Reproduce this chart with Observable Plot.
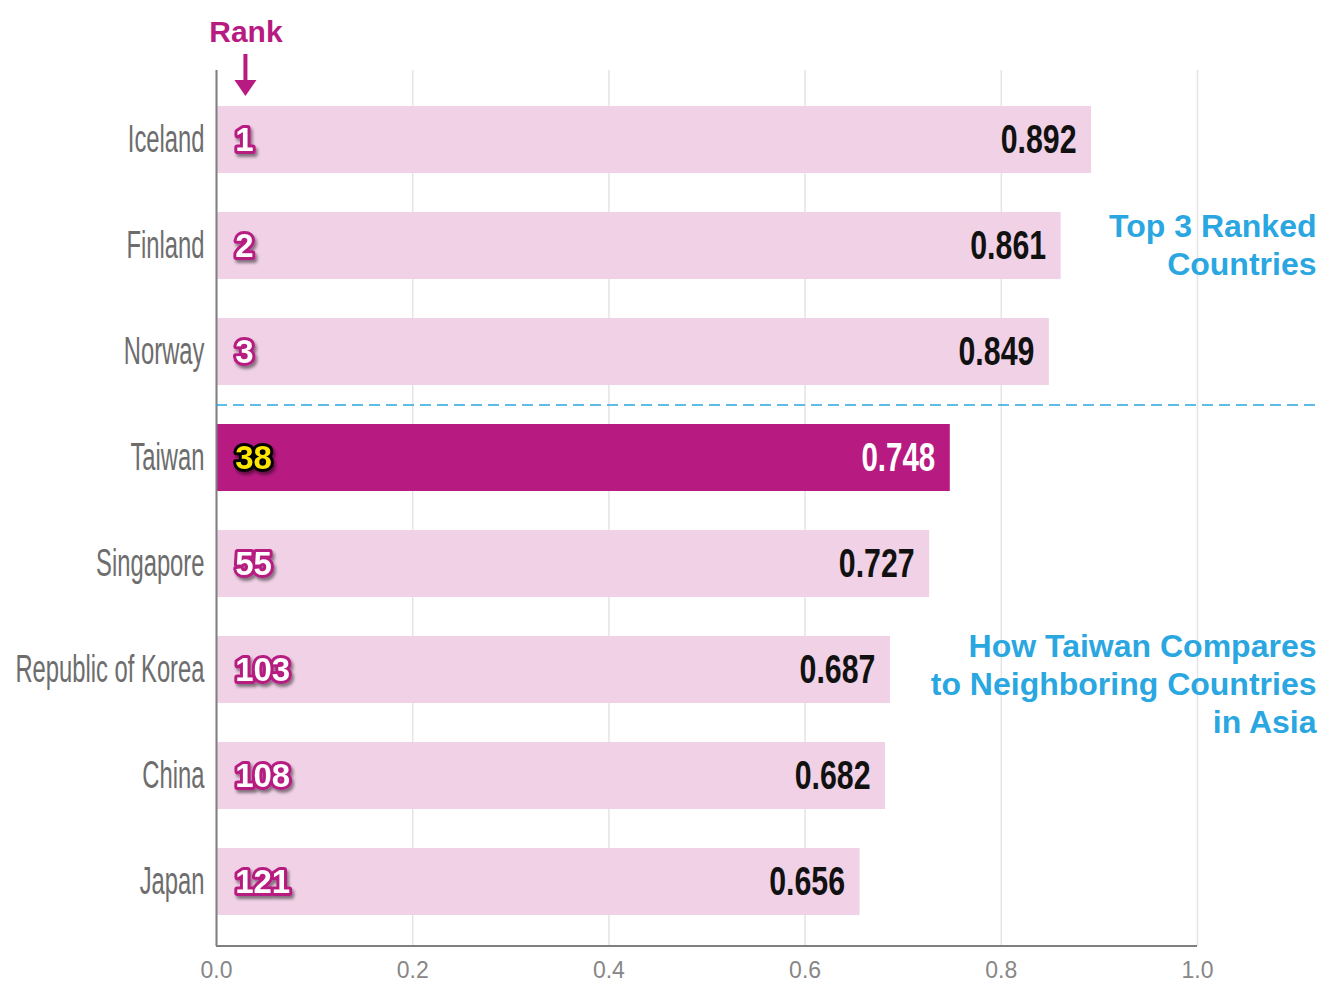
<!DOCTYPE html>
<html><head><meta charset="utf-8">
<script src="https://cdn.jsdelivr.net/npm/d3@7"></script>
<script src="https://cdn.jsdelivr.net/npm/@observablehq/plot@0.6"></script>
<style>body{margin:0;background:#fff} #chart{width:1322px;height:981px}</style>
</head><body><div id="chart"></div>
<script>
// ---- data ----
const countries = ["Iceland","Finland","Norway","Taiwan","Singapore","Republic of Korea","China","Japan"];
const scores = [0.892,0.861,0.849,0.748,0.727,0.687,0.682,0.656];
const ranks = [1,2,3,38,55,103,108,121];
const highlight = "Taiwan";
const xTicks = [0,0.2,0.4,0.6,0.8,1.0];
const topNote = "Top 3 Ranked\nCountries";
const asiaNote = "How Taiwan Compares\nto Neighboring Countries\nin Asia";
const rankTitle = "Rank";

const data = countries.map((c,i)=>({country:c, score:scores[i], rank:ranks[i]}));

// ---- style ----
const PINK="#f0d1e6", MAGENTA="#b71a80", BLUE="#2aa7e1", YELLOW="#ffe600";
const rankX = 0.019, arrowX = 0.03, noteX = 1.1213;
const isHi = d => d.country===highlight;
const narrow = "'Liberation Sans Narrow', 'Liberation Sans', Arial, sans-serif";

const plot = Plot.plot({
  width:1322, height:981,
  marginTop:70, marginBottom:35, marginLeft:216, marginRight:125,
  x:{domain:[0,1], label:null},
  y:{domain:countries, axis:null, paddingInner:0.368, paddingOuter:0.316, align:0.54},
  color:{type:"identity"},
  style:{fontFamily:"'Liberation Sans', Arial, sans-serif", background:"#fff", overflow:"visible"},
  marks:[
    Plot.gridX(xTicks,{stroke:"#e4e4e4", strokeOpacity:1, strokeWidth:1.5}),
    Plot.barX(data,{x:"score", y:"country", fill: d=>isHi(d)?MAGENTA:PINK}),
    Plot.ruleX([0],{stroke:"#7f7f7f", strokeWidth:2}),
    Plot.axisX(xTicks,{tickSize:0, tickPadding:15, tickFormat:".1f", fontSize:23, fill:"#878787", label:null}),
    Plot.ruleY([highlight],{x1:0, x2:noteX, dy:-53, stroke:BLUE, strokeWidth:1.6, strokeDasharray:"11,6"}),
    Plot.text(data,{x:()=>0, y:"country", text:"country", textAnchor:"end", dx:-12, fill:"#6d6d6d", fontSize:39, fontFamily:narrow}),
    Plot.text(data.filter(d=>!isHi(d)),{x:"score", y:"country", text:d=>d.score.toFixed(3), textAnchor:"end", dx:-15, fill:"#111", fontSize:41, fontWeight:"bold", fontFamily:narrow}),
    Plot.text(data.filter(isHi),{x:"score", y:"country", text:d=>d.score.toFixed(3), textAnchor:"end", dx:-15, fill:"#fff", fontSize:41, fontWeight:"bold", fontFamily:narrow}),
    Plot.text(data,{x:()=>rankX, y:"country", text:d=>String(d.rank), textAnchor:"start", fill:d=>isHi(d)?YELLOW:"#fff", stroke:d=>isHi(d)?"#000":MAGENTA, strokeWidth:6, paintOrder:"stroke", fontSize:33, fontWeight:"bold"}),
    Plot.text([{t:topNote, row:"Finland"}],{x:()=>noteX, y:"row", dy:-2, text:"t", textAnchor:"end", lineHeight:1.19, fontSize:32, fontWeight:"bold", fill:BLUE}),
    Plot.text([{t:asiaNote, row:"Republic of Korea"}],{x:()=>noteX, y:"row", dy:13, text:"t", textAnchor:"end", lineHeight:1.19, fontSize:32, fontWeight:"bold", fill:BLUE}),
    Plot.text([rankTitle],{x:()=>arrowX, frameAnchor:"top", lineAnchor:"middle", dy:-38, fontSize:30, fontWeight:"bold", fill:MAGENTA})
  ]
});

const svg = d3.select(plot);
const xs = plot.scale("x");

// locate text mark groups by their content
const groups = Array.from(plot.querySelectorAll("g")).filter(g => g.querySelector(":scope > text"));
const contents = g => Array.from(g.querySelectorAll(":scope > text")).map(t => t.textContent);
const findGroup = pred => groups.find(g => pred(contents(g)));
const gCountries = findGroup(ts => ts[0] === countries[0]);
const gValues = findGroup(ts => ts.length === countries.length - 1 && ts[0] === scores[0].toFixed(3));
const gHi = findGroup(ts => ts.length === 1 && ts[0] === scores[countries.indexOf(highlight)].toFixed(3));
const gRank = findGroup(ts => ts.length === ranks.length && ts[0] === String(ranks[0]));

// shadow filter
const defs = svg.insert("defs",":first-child");
defs.append("filter").attr("id","rshadow").attr("x","-20%").attr("y","-20%").attr("width","150%").attr("height","160%")
  .append("feDropShadow").attr("dx",2).attr("dy",3).attr("stdDeviation",1.5).attr("flood-color","#000").attr("flood-opacity",0.45);
if (gRank) gRank.setAttribute("filter","url(#rshadow)");

// bottom axis line
const y0 = 981-35;
svg.append("line").attr("x1",xs.apply(0)).attr("x2",xs.apply(1)).attr("y1",y0).attr("y2",y0).attr("stroke","#7f7f7f").attr("stroke-width",2);
// rank arrow
const ax = xs.apply(arrowX);
svg.append("line").attr("x1",ax).attr("x2",ax).attr("y1",54).attr("y2",82).attr("stroke",MAGENTA).attr("stroke-width",4);
svg.append("path").attr("d",`M${ax-11},80 L${ax+11},80 L${ax},96 Z`).attr("fill",MAGENTA);

// condense (no narrow font installed)
function squeeze(g, sx){
  if (!g) return;
  g.querySelectorAll(":scope > text").forEach(function(el){
    const t = el.getAttribute("transform");
    if (t) el.setAttribute("transform", t+` scale(${sx},1)`);
    else {
      const x = +el.getAttribute("x")||0, y = +el.getAttribute("y")||0;
      el.removeAttribute("x"); el.removeAttribute("y");
      el.setAttribute("transform",`translate(${x},${y}) scale(${sx},1)`);
    }
  });
}
squeeze(gCountries, 0.61);
squeeze(gValues, 0.74);
squeeze(gHi, 0.72);

document.getElementById("chart").appendChild(plot);
</script>
</body></html>
